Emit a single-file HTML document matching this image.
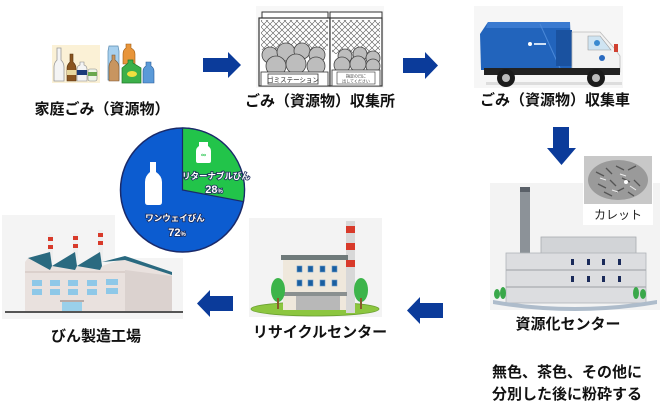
<!DOCTYPE html>
<html><head><meta charset="utf-8"><style>
html,body{margin:0;padding:0;background:#fff;}
svg{display:block;}
.lb{font-family:"Liberation Sans","Noto Sans CJK JP",sans-serif;font-weight:bold;font-size:15px;fill:#111;}
.pt{font-family:"Liberation Sans","Noto Sans CJK JP",sans-serif;font-weight:bold;fill:#fff;stroke:#1a2a5a;stroke-width:1.6;paint-order:stroke;}
</style></head><body>
<svg width="661" height="406" viewBox="0 0 661 406" xmlns="http://www.w3.org/2000/svg">
<defs>
<pattern id="mesh" width="6" height="6" patternUnits="userSpaceOnUse">
<path d="M0,0 L6,6 M6,0 L0,6" stroke="#555" stroke-width="0.6"/>
</pattern>
</defs>
<rect width="661" height="406" fill="#fff"/>

<!-- Bottles -->
<rect x="52" y="45" width="48" height="38" fill="#fbf1d6"/>
<path d="M57,48 h4 v12 q3,3 3,7 v14 h-10 v-14 q0,-4 3,-7z" fill="#f4f4f4" stroke="#999" stroke-width="0.8"/>
<path d="M70,54 h3 v8 q3,3 3,6 v13 h-9 v-13 q0,-3 3,-6z" fill="#8a5520" stroke="#5a3510" stroke-width="0.6"/>
<rect x="67" y="70" width="9" height="5" fill="#e8d8a0"/>
<path d="M80,62 h4 v3 q3,1 3,4 v12 h-10 v-12 q0,-3 3,-4z" fill="#f4f4f4" stroke="#888" stroke-width="0.6"/>
<rect x="77" y="70" width="10" height="5" fill="#1a3a7a"/>
<rect x="88" y="69" width="9" height="12" rx="2" fill="#eef4e8" stroke="#888" stroke-width="0.6"/>
<rect x="88" y="72" width="9" height="4" fill="#6aa84f"/>
<path d="M109,46 h9 l1,5 v29 h-11 v-29z" fill="#a8d0ee" stroke="#5a8ab0" stroke-width="0.7"/>
<path d="M112,55 h3 v5 q4,3 4,7 v14 h-10 v-14 q0,-4 3,-7z" fill="#c89560" stroke="#7a5530" stroke-width="0.6"/>
<path d="M126,44 h5 v4 q4,2 4,6 v10 h-12 v-10 q0,-4 3,-6z" fill="#e8953a" stroke="#a05a10" stroke-width="0.6"/>
<path d="M128,60 h5 v3 l8,5 v15 h-19 v-15 l6,-5z" fill="#3cb04a" stroke="#1f7a2a" stroke-width="0.7"/>
<ellipse cx="132" cy="74" rx="5" ry="3" fill="#f0e040"/>
<path d="M146,62 h5 v4 q3,2 3,5 v12 h-11 v-12 q0,-3 3,-5z" fill="#5a9ad8" stroke="#2a5a98" stroke-width="0.6"/>

<text class="lb" x="102" y="114" text-anchor="middle">家庭ごみ（資源物）</text>

<!-- arrow 1 -->
<polygon points="203,58 228,58 228,52 241,65 228,78 228,72 203,72" fill="#0b3b9a"/>

<!-- Collection station -->
<rect x="256" y="6" width="128" height="82" fill="#f7f7f7"/>
<rect x="262" y="12" width="66" height="6" fill="#fff" stroke="#333" stroke-width="1"/>
<rect x="330" y="12" width="52" height="6" fill="#fff" stroke="#333" stroke-width="1"/>
<rect x="259" y="18" width="71" height="68" fill="#fff" stroke="#333" stroke-width="1.2"/>
<rect x="330" y="18" width="52" height="68" fill="#fff" stroke="#333" stroke-width="1.2"/>
<rect x="261" y="20" width="67" height="30" fill="url(#mesh)"/>
<rect x="332" y="20" width="48" height="34" fill="url(#mesh)"/>
<g fill="#bdbdbd" stroke="#444" stroke-width="0.8">
<circle cx="270" cy="55" r="8"/><circle cx="286" cy="52" r="9"/><circle cx="302" cy="51" r="8"/><circle cx="317" cy="55" r="8"/>
<circle cx="276" cy="66" r="10"/><circle cx="296" cy="64" r="10"/><circle cx="316" cy="66" r="9"/>
<circle cx="345" cy="56" r="7"/><circle cx="360" cy="54" r="7"/><circle cx="373" cy="58" r="7"/>
<circle cx="342" cy="65" r="8"/><circle cx="358" cy="64" r="8"/><circle cx="373" cy="66" r="7"/>
</g>
<rect x="261" y="72" width="67" height="14" fill="#fff" stroke="#333" stroke-width="0.8"/>
<rect x="268" y="74" width="50" height="10" fill="#fff" stroke="#333" stroke-width="0.8"/>
<text x="293" y="82" font-family="Liberation Sans,'Noto Sans CJK JP',sans-serif" font-size="6.5" text-anchor="middle" fill="#222">ゴミステーション</text>
<rect x="332" y="70" width="48" height="16" fill="#fff" stroke="#333" stroke-width="0.8"/>
<rect x="337" y="72" width="38" height="12" fill="#fff" stroke="#333" stroke-width="0.6"/>
<text x="356" y="77.5" font-family="'Noto Sans CJK JP',sans-serif" font-size="4" text-anchor="middle" fill="#333">指定の日に</text>
<text x="356" y="82.5" font-family="'Noto Sans CJK JP',sans-serif" font-size="4" text-anchor="middle" fill="#333">出してください</text>

<text class="lb" x="320" y="106" text-anchor="middle">ごみ（資源物）収集所</text>

<!-- arrow 2 -->
<polygon points="403,58 425,58 425,52 438,65.5 425,79 425,73 403,73" fill="#0b3b9a"/>

<!-- Truck -->
<rect x="474" y="6" width="149" height="82" fill="#f6f6f6"/>
<path d="M480,34 L488,22 L570,22 L572,70 L481,70 Z" fill="#2264bc"/>
<path d="M488,22 L570,22 L570,28 L486,28Z" fill="#3a7ad0"/>
<line x1="540" y1="24" x2="560" y2="68" stroke="#4a88d8" stroke-width="1"/>
<rect x="556" y="30" width="16" height="36" fill="#1a52a0"/>
<circle cx="530" cy="44" r="2" fill="#fff"/>
<rect x="534" y="43" width="12" height="2" fill="#cfe0f5"/>
<path d="M572,32 L600,32 L614,48 L620,56 L620,72 L572,72 Z" fill="#f2f2f2" stroke="#bbb" stroke-width="0.8"/>
<path d="M588,36 L600,36 L611,50 L588,50 Z" fill="#cfe4f2" stroke="#999" stroke-width="0.6"/>
<circle cx="597" cy="43" r="3" fill="#3a8ad0"/>
<circle cx="602" cy="58" r="3" fill="#2a6ac0"/>
<rect x="614" y="44" width="4" height="8" fill="#d04030"/>
<rect x="484" y="68" width="136" height="7" fill="#222"/>
<rect x="486" y="82" width="136" height="3" fill="#ddd"/>
<circle cx="506" cy="78" r="9" fill="#1a1a1a"/><circle cx="506" cy="78" r="4" fill="#bbb"/>
<circle cx="596" cy="78" r="9" fill="#1a1a1a"/><circle cx="596" cy="78" r="4" fill="#bbb"/>

<text class="lb" x="555" y="105" text-anchor="middle">ごみ（資源物）収集車</text>

<!-- down arrow -->
<polygon points="553,127 569,127 569,148 576,148 561.5,165 547,148 553,148" fill="#0b3b9a"/>

<!-- Resource center -->
<rect x="490" y="183" width="170" height="127" fill="#f3f3f3"/>
<rect x="520" y="187" width="10" height="68" fill="#8c9298"/>
<rect x="520" y="187" width="10" height="5" fill="#5a6068"/>
<rect x="541" y="237" width="95" height="17" fill="#d2d4d7" stroke="#a8acb0" stroke-width="0.8"/>
<rect x="506" y="253" width="140" height="50" fill="#dcdde0" stroke="#b0b3b8" stroke-width="0.8"/>
<line x1="506" y1="270" x2="646" y2="270" stroke="#a8acb0" stroke-width="1.2"/>
<line x1="506" y1="287" x2="646" y2="287" stroke="#a8acb0" stroke-width="1.2"/>
<g fill="#1a2a5a">
<rect x="571" y="259" width="3" height="6"/><rect x="587" y="259" width="3" height="6"/><rect x="602" y="259" width="3" height="6"/><rect x="618" y="259" width="3" height="6"/>
<rect x="571" y="276" width="3" height="6"/><rect x="587" y="276" width="3" height="6"/><rect x="602" y="276" width="3" height="6"/><rect x="618" y="276" width="3" height="6"/>
</g>
<path d="M493,300 Q575,314 657,300 L657,304 Q575,318 493,304Z" fill="#aebccb"/>
<g fill="#3aa84a">
<ellipse cx="497" cy="294" rx="3" ry="5"/><ellipse cx="503" cy="293" rx="3" ry="6"/>
<ellipse cx="636" cy="293" rx="3" ry="6"/><ellipse cx="643" cy="294" rx="3" ry="5"/>
</g>

<!-- Cullet (on top) -->
<rect x="583" y="155" width="70" height="70" fill="#fff"/>
<rect x="584" y="156" width="68" height="48" fill="#c8c8c8"/>
<ellipse cx="618" cy="180" rx="30" ry="20" fill="#9a9a9a"/>
<g stroke="#555" stroke-width="1.3">
<line x1="596" y1="172" x2="604" y2="176"/><line x1="606" y1="168" x2="612" y2="174"/><line x1="616" y1="166" x2="624" y2="170"/><line x1="628" y1="170" x2="636" y2="166"/>
<line x1="598" y1="184" x2="606" y2="188"/><line x1="610" y1="180" x2="616" y2="186"/><line x1="622" y1="178" x2="630" y2="182"/><line x1="634" y1="180" x2="640" y2="186"/>
<line x1="604" y1="192" x2="612" y2="196"/><line x1="616" y1="192" x2="624" y2="188"/><line x1="628" y1="192" x2="634" y2="196"/>
</g>
<g stroke="#eee" stroke-width="1">
<line x1="600" y1="178" x2="606" y2="180"/><line x1="620" y1="174" x2="626" y2="176"/><line x1="630" y1="186" x2="636" y2="190"/><line x1="612" y1="190" x2="618" y2="192"/>
</g>
<circle cx="626" cy="182" r="2" fill="#fff"/>
<text x="618" y="219" font-family="Liberation Sans,'Noto Sans CJK JP',sans-serif" font-size="12" text-anchor="middle" fill="#222">カレット</text>

<text class="lb" x="568" y="329" text-anchor="middle">資源化センター</text>

<text class="lb" x="567" y="377" text-anchor="middle">無色、茶色、その他に</text>
<text class="lb" x="567" y="399" text-anchor="middle">分別した後に粉砕する</text>

<!-- left arrow (right) -->
<polygon points="407,310.5 420,297 420,303 443,303 443,318 420,318 420,324" fill="#0b3b9a"/>

<!-- Recycle center -->
<rect x="249" y="218" width="133" height="99" fill="#f3f3f3"/>
<ellipse cx="315" cy="309" rx="64" ry="7" fill="#8cc63f" stroke="#6aa030" stroke-width="0.8"/>
<rect x="346" y="221" width="9" height="92" fill="#d8d8d8"/>
<rect x="346" y="226" width="9" height="7" fill="#d83a2a"/>
<rect x="346" y="243" width="9" height="7" fill="#d83a2a"/>
<rect x="346" y="260" width="9" height="7" fill="#d83a2a"/>
<rect x="283" y="258" width="63" height="52" fill="#efe8dc"/>
<rect x="281" y="255" width="67" height="5" fill="#6f7a7a"/>
<g fill="#1a5fa0" stroke="#6a9ac8" stroke-width="0.6">
<rect x="297" y="266" width="5" height="6"/><rect x="308" y="266" width="5" height="6"/><rect x="320" y="266" width="5" height="6"/><rect x="332" y="266" width="5" height="6"/>
<rect x="297" y="280" width="5" height="6"/><rect x="308" y="280" width="5" height="6"/><rect x="320" y="280" width="5" height="6"/><rect x="332" y="280" width="5" height="6"/>
</g>
<rect x="283" y="292" width="64" height="4" fill="#8a9090"/>
<rect x="296" y="296" width="44" height="14" fill="#b8b8b8"/>
<ellipse cx="278" cy="290" rx="7" ry="12" fill="#3cb44a"/><rect x="277" y="298" width="2" height="11" fill="#8a5a2a"/>
<ellipse cx="361" cy="290" rx="7" ry="12" fill="#3cb44a"/><rect x="360" y="298" width="2" height="11" fill="#8a5a2a"/>

<text class="lb" x="320" y="337" text-anchor="middle">リサイクルセンター</text>

<!-- left arrow (left) -->
<polygon points="197,303.5 210,290 210,296 233,296 233,311 210,311 210,317" fill="#0b3b9a"/>

<!-- Bottle factory -->
<rect x="2" y="215" width="113" height="104" fill="#f4f4f4"/>
<rect x="115" y="258" width="68" height="61" fill="#f4f4f4"/>
<g>
<rect x="48" y="234" width="5" height="26" fill="#eee"/>
<rect x="48" y="237" width="5" height="4" fill="#d83a2a"/><rect x="48" y="245" width="5" height="4" fill="#d83a2a"/>
<rect x="73" y="233" width="5" height="27" fill="#eee"/>
<rect x="73" y="236" width="5" height="4" fill="#d83a2a"/><rect x="73" y="244" width="5" height="4" fill="#d83a2a"/>
<rect x="98" y="230" width="5" height="30" fill="#eee"/>
<rect x="98" y="233" width="5" height="4" fill="#d83a2a"/><rect x="98" y="241" width="5" height="4" fill="#d83a2a"/>
</g>
<path d="M25,262 L28,258 L50,252 L52,266 L75,252 L77,266 L100,252 L102,266 L125,258 L172,274 L172,312 L25,312Z" fill="#e9e1de"/>
<path d="M125,270 L172,276 L172,312 L125,312Z" fill="#dbd2cf"/>
<path d="M28,258 L50,270 L52,266 L50,252Z M52,266 L75,270 L77,266 L75,252Z M77,266 L100,270 L102,266 L100,252Z" fill="#2a6a80"/>
<path d="M102,262 L125,256 L172,272 L172,275 L125,260Z" fill="#2a6a80"/>
<line x1="25" y1="272" x2="125" y2="272" stroke="#cdbfbb" stroke-width="1"/>
<g fill="#8ec8e8">
<rect x="32" y="280" width="10" height="6"/><rect x="50" y="280" width="10" height="6"/><rect x="68" y="280" width="10" height="6"/><rect x="87" y="280" width="10" height="6"/><rect x="106" y="279" width="12" height="6"/>
<rect x="32" y="289" width="10" height="6"/><rect x="50" y="289" width="10" height="6"/><rect x="68" y="289" width="10" height="6"/><rect x="87" y="289" width="10" height="6"/><rect x="106" y="288" width="12" height="6"/>
</g>
<rect x="60" y="300" width="24" height="2" fill="#b8aaa6"/>
<rect x="62" y="302" width="20" height="10" fill="#9ad0ea"/>
<rect x="5" y="311" width="178" height="2" fill="#555"/>

<text class="lb" x="96" y="341" text-anchor="middle">びん製造工場</text>

<!-- Pie chart -->
<circle cx="182.5" cy="190" r="62" fill="#0c5cd0" stroke="#1a2a6a" stroke-width="1.5"/>
<path d="M182.5,190 L182.5,128 A62,62 0 0 1 243.4,201.6 Z" fill="#22c44a" stroke="#1a2a6a" stroke-width="1.2"/>
<path d="M150,162 h6 v10 q6,4 6,10 v20 q0,3 -3,3 h-11 q-3,0 -3,-3 v-20 q0,-6 5,-10z" fill="#fff"/>
<path d="M199,142 h9 v4 q3,2 3,5 v10 q0,2 -2,2 h-11 q-2,0 -2,-2 v-10 q0,-3 3,-5z" fill="#fff"/>
<text x="203.5" y="157" font-family="Liberation Sans,sans-serif" font-size="7" font-weight="bold" font-style="italic" fill="#22c44a" text-anchor="middle">∞</text>
<text class="pt" x="216" y="179" font-size="8.5" text-anchor="middle">リターナブルびん</text>
<text class="pt" x="214" y="193" font-size="11" text-anchor="middle">28<tspan font-size="6">%</tspan></text>
<text class="pt" x="175" y="221" font-size="8.5" text-anchor="middle">ワンウェイびん</text>
<text class="pt" x="177" y="236" font-size="11" text-anchor="middle">72<tspan font-size="6">%</tspan></text>
</svg>
</body></html>
